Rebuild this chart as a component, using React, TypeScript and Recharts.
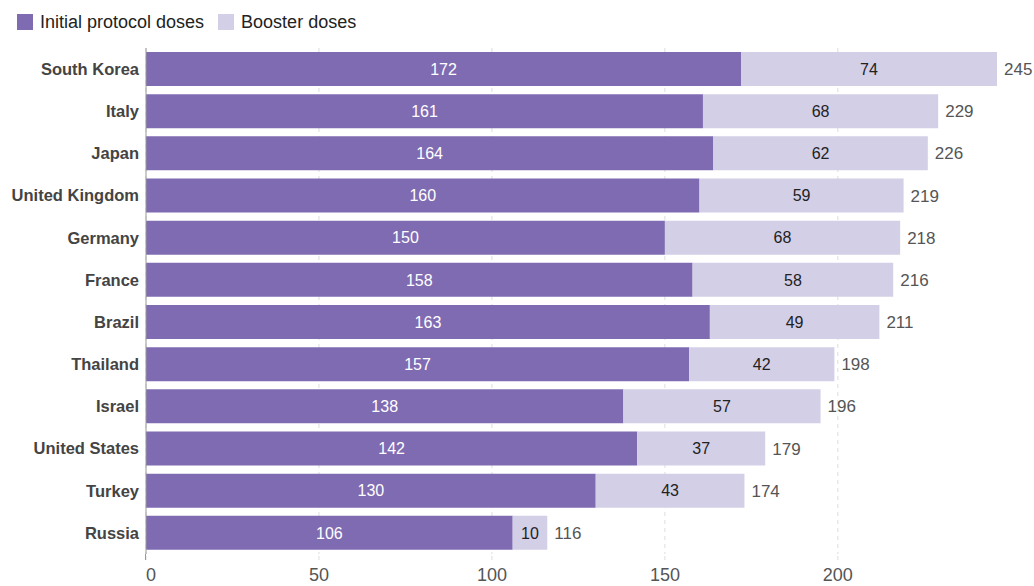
import React from "react";
import { BarChart, Bar, XAxis, YAxis, CartesianGrid, LabelList } from "recharts";

const countries = [
  "South Korea",
  "Italy",
  "Japan",
  "United Kingdom",
  "Germany",
  "France",
  "Brazil",
  "Thailand",
  "Israel",
  "United States",
  "Turkey",
  "Russia",
];
const initialDoses = [172, 161, 164, 160, 150, 158, 163, 157, 138, 142, 130, 106];
const boosterDoses = [74, 68, 62, 59, 68, 58, 49, 42, 57, 37, 43, 10];
const totals = [245, 229, 226, 219, 218, 216, 211, 198, 196, 179, 174, 116];
const xTicks = [0, 50, 100, 150, 200];

const seriesNames = { initial: "Initial protocol doses", booster: "Booster doses" };
const colors = { initial: "#7f6bb2", booster: "#d3cfe7" };

const data = countries.map((c, i) => ({
  country: c,
  initial: initialDoses[i],
  booster: boosterDoses[i],
  total: totals[i],
}));

const FONT = "'Liberation Sans', Arial, Helvetica, sans-serif";
const TICK_MARGIN = 8;

const XTick = (props: any) => {
  const { x, y, payload } = props;
  const isZero = payload.value === 0;
  const dx = isZero ? 5 : 0;
  return (
    <g>
      {isZero ? (
        <line x1={x - 0.5} x2={x - 0.5} y1={y - TICK_MARGIN - 6} y2={y - TICK_MARGIN} stroke="#999999" />
      ) : null}
      <text
        x={x + dx}
        y={y}
        dy="0.71em"
        textAnchor="middle"
        fill="#555"
        fontSize={18}
        fontFamily={FONT}
      >
        {payload.value}
      </text>
    </g>
  );
};

const LegendBox = () => (
  <div
    style={{
      position: "absolute",
      left: 17,
      top: 13,
      display: "flex",
      alignItems: "center",
      fontFamily: FONT,
      fontSize: 18,
      color: "#222",
      lineHeight: "18px",
    }}
  >
    <span style={{ width: 16, height: 16, background: colors.initial, display: "inline-block" }} />
    <span style={{ marginLeft: 7 }}>{seriesNames.initial}</span>
    <span
      style={{ width: 16, height: 16, background: colors.booster, display: "inline-block", marginLeft: 14 }}
    />
    <span style={{ marginLeft: 7 }}>{seriesNames.booster}</span>
  </div>
);

export default function App() {
  return (
    <div style={{ position: "absolute", left: 0, top: 0, width: 1034, height: 586 }}>
      <LegendBox />
      <BarChart
        width={1034}
        height={586}
        data={data}
        layout="vertical"
        margin={{ top: 48, right: 37, bottom: 0, left: 0 }}
      >
        <CartesianGrid
          horizontal={false}
          vertical={true}
          verticalValues={xTicks}
          stroke="#dddddd"
          strokeDasharray="4 4"
        />
        <XAxis
          type="number"
          domain={[0, 245]}
          ticks={xTicks}
          height={32}
          axisLine={false}
          tickSize={6}
          tickMargin={TICK_MARGIN}
          tickLine={{ stroke: "#dddddd", strokeDasharray: "4 4" }}
          tick={<XTick />}
          interval={0}
        />
        <YAxis
          type="category"
          dataKey="country"
          width={146}
          axisLine={{ stroke: "#999999" }}
          tickLine={false}
          tickSize={0}
          tickMargin={7}
          tick={{ fill: "#444", fontSize: 16.5, fontWeight: 700, fontFamily: FONT }}
          interval={0}
        />
        <Bar dataKey="initial" stackId="a" fill={colors.initial} barSize={34} isAnimationActive={false}>
          <LabelList dataKey="initial" position="center" fill="#ffffff" fontSize={16} fontFamily={FONT} />
        </Bar>
        <Bar dataKey="booster" stackId="a" fill={colors.booster} barSize={34} isAnimationActive={false}>
          <LabelList dataKey="booster" position="center" fill="#222" fontSize={16} fontFamily={FONT} />
          <LabelList dataKey="total" position="right" offset={7} fill="#555" fontSize={17} fontFamily={FONT} />
        </Bar>
      </BarChart>
    </div>
  );
}
